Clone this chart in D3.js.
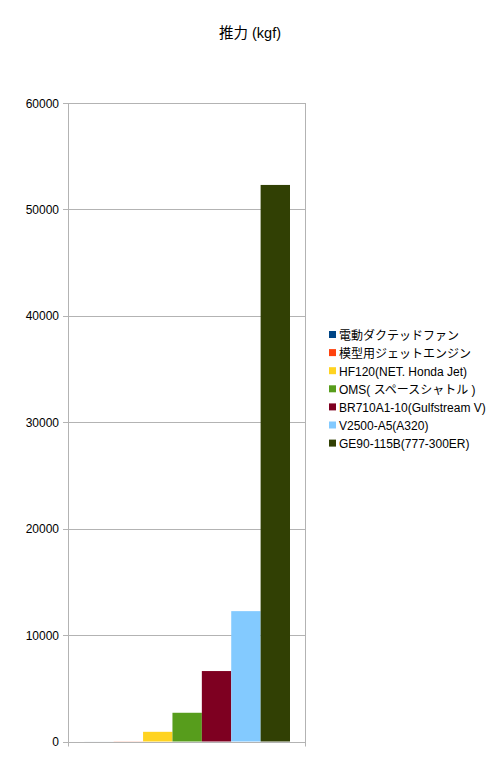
<!DOCTYPE html>
<html lang="ja">
<head>
  <meta charset="UTF-8">
  <title>推力 (kgf)</title>
  <script src="https://d3js.org/d3.v7.min.js"></script>
  <style>
    body { margin: 0; background: white; }
    svg { display: block; font-family: "Liberation Sans", Arial, "Noto Sans CJK JP", sans-serif; }
  </style>
</head>
<body>
  <div id="chart"></div>
  <script>
    // engine names (legend order) and thrust in kgf
    const engines = [
      "電動ダクテッドファン",
      "模型用ジェットエンジン",
      "HF120(NET. Honda Jet)",
      "OMS( スペースシャトル )",
      "BR710A1-10(Gulfstream V)",
      "V2500-A5(A320)",
      "GE90-115B(777-300ER)"
    ];
    const thrust = [3, 12, 910, 2700, 6620, 12250, 52300];
    const colors = ["#004586", "#ff420e", "#ffd320", "#579d1c", "#7e0021", "#83caff", "#314004"];
    const yTicks = [0, 10000, 20000, 30000, 40000, 50000, 60000];

    const width = 500, height = 779;
    const plot = { left: 68, right: 305, top: 103, bottom: 741.5 };

    const svg = d3.select("#chart").append("svg")
      .attr("width", width)
      .attr("height", height);

    // title
    svg.append("text")
      .attr("x", 250)
      .attr("y", 38)
      .attr("text-anchor", "middle")
      .attr("font-size", 14.5)
      .attr("fill", "#000")
      .text("推力 (kgf)");

    const y = d3.scaleLinear().domain([0, 60000]).range([plot.bottom, plot.top]);
    const x = d3.scaleBand()
      .domain(engines)
      .range([plot.left + 16.3, plot.right - 15]);

    // gridlines
    svg.append("g")
      .selectAll("line")
      .data(yTicks)
      .join("line")
      .attr("x1", plot.left - 5)
      .attr("x2", plot.right)
      .attr("y1", d => Math.round(y(d)) + 0.5)
      .attr("y2", d => Math.round(y(d)) + 0.5)
      .attr("stroke", "#b3b3b3");

    // y tick labels
    svg.append("g")
      .selectAll("text")
      .data(yTicks)
      .join("text")
      .attr("x", 59)
      .attr("y", d => y(d) + 4.5)
      .attr("text-anchor", "end")
      .attr("font-size", 12)
      .attr("fill", "#000")
      .text(d => d);

    // left axis and right border
    [plot.left, plot.right].forEach(px => {
      svg.append("line")
        .attr("x1", px + 0.5).attr("x2", px + 0.5)
        .attr("y1", plot.top).attr("y2", plot.bottom + 5)
        .attr("stroke", "#b3b3b3");
    });

    // bars
    svg.append("g")
      .selectAll("rect")
      .data(engines)
      .join("rect")
      .attr("x", d => x(d))
      .attr("width", x.bandwidth())
      .attr("y", (d, i) => y(thrust[i]))
      .attr("height", (d, i) => y(0) - y(thrust[i]))
      .attr("fill", (d, i) => colors[i]);

    // legend
    const legend = svg.append("g")
      .selectAll("g")
      .data(engines)
      .join("g")
      .attr("transform", (d, i) => `translate(329, ${335 + i * 18.1})`);

    legend.append("rect")
      .attr("x", 0)
      .attr("y", -4)
      .attr("width", 7)
      .attr("height", 7)
      .attr("fill", (d, i) => colors[i]);

    legend.append("text")
      .attr("x", 10)
      .attr("y", 4.5)
      .attr("font-size", 12)
      .attr("fill", "#000")
      .text(d => d);
  </script>
</body>
</html>
